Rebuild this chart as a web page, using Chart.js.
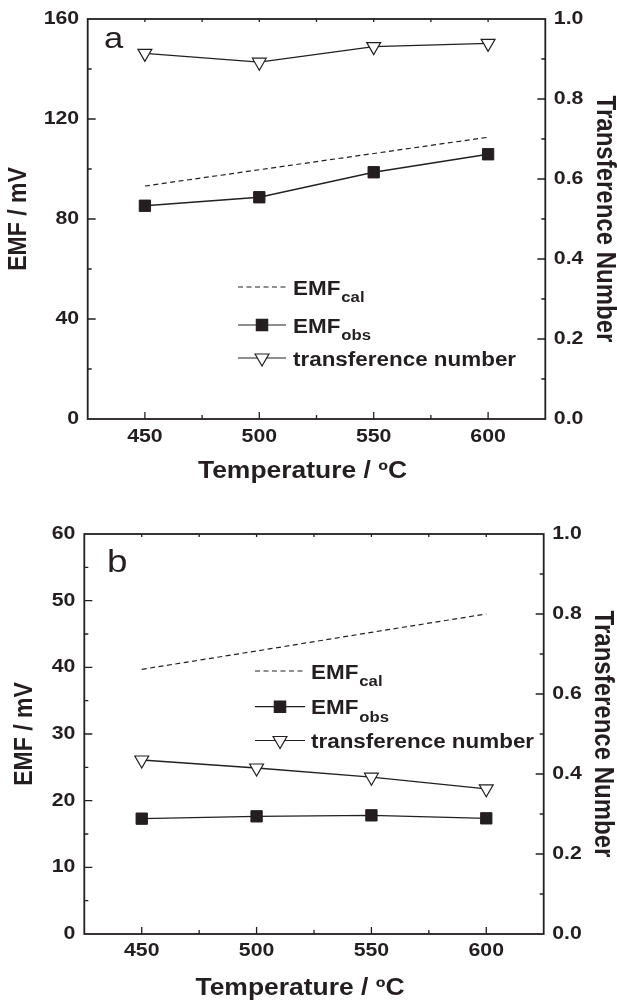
<!DOCTYPE html>
<html>
<head>
<meta charset="utf-8">
<script src="https://cdn.jsdelivr.net/npm/chart.js@4.4.1/dist/chart.umd.min.js"></script>
<style>
  body { margin: 0; background: #fff; }
  canvas { display: block; }
</style>
</head>
<body>
<canvas id="chartA" width="617" height="500"></canvas>
<canvas id="chartB" width="617" height="500"></canvas>
<script>
// temperatures (ºC)
const temps = [450, 500, 550, 600]

// panel a
const emfCalA = [93.2, 99.7, 106.2, 112.7]
const emfObsA = [85.3, 88.7, 98.7, 105.9]
const transA = [0.914, 0.892, 0.931, 0.939]

// panel b
const emfCalB = [39.7, 42.45, 45.25, 48.0]
const emfObsB = [17.3, 17.65, 17.8, 17.35]
const transB = [0.435, 0.415, 0.392, 0.363]

// legend text (main + subscript)
const seriesNames = ['EMF', 'EMF', 'transference number']
const seriesSubs = ['cal', 'obs', '']

const ink = '#231f20'
const fam = '"Liberation Sans", Arial, sans-serif'
Chart.defaults.font.family = fam
Chart.defaults.color = ink

// the source figure is a bit wider than tall, so text gets stretched sideways
const textStretch = 1.15
const baseFillText = CanvasRenderingContext2D.prototype.fillText
CanvasRenderingContext2D.prototype.fillText = function (text, x, y) {
  const m = this.getTransform()
  const p = m.transformPoint(new DOMPoint(x, y))
  this.save()
  this.setTransform(new DOMMatrix().translate(p.x, p.y).scale(textStretch, 1).translate(-p.x, -p.y).multiply(m))
  baseFillText.call(this, text, x, y)
  this.restore()
}

function pts(ys) {
  return temps.map((t, i) => ({ x: t, y: ys[i] }))
}

// frame, inward ticks, x title, panel letter and legend (with subscripts)
const frameTicks = {
  id: 'frameTicks',
  afterDatasetsDraw(chart, args, o) {
    const { ctx, chartArea: a, scales } = chart
    ctx.save()
    ctx.strokeStyle = ink
    ctx.fillStyle = ink
    ctx.lineWidth = 1.3
    ctx.beginPath()
    scales.x.ticks.forEach(t => {
      const px = scales.x.getPixelForValue(t.value)
      if (px < a.left + 1 || px > a.right - 1) return
      const major = t.label !== ''
      ctx.moveTo(px, a.bottom); ctx.lineTo(px, a.bottom - (major ? 7 : 4))
      ctx.moveTo(px, a.top); ctx.lineTo(px, a.top + 3)
    })
    scales.y.ticks.forEach(t => {
      const py = scales.y.getPixelForValue(t.value)
      if (py < a.top + 1 || py > a.bottom - 1) return
      ctx.moveTo(a.left, py); ctx.lineTo(a.left + (t.label !== '' ? 8 : 4), py)
    })
    scales.y1.ticks.forEach(t => {
      const py = scales.y1.getPixelForValue(t.value)
      if (py < a.top + 1 || py > a.bottom - 1) return
      ctx.moveTo(a.right, py); ctx.lineTo(a.right - (t.label !== '' ? 8 : 4), py)
    })
    ctx.stroke()
    ctx.lineWidth = 1.8
    ctx.strokeRect(a.left, a.top, a.right - a.left, a.bottom - a.top)

    // x axis title
    ctx.font = 'bold 23px ' + fam
    ctx.textAlign = 'center'
    ctx.textBaseline = 'middle'
    ctx.fillText('Temperature / ºC', (a.left + a.right) / 2 - 14, o.xTitleY)

    // panel letter
    ctx.textAlign = 'left'
    ctx.textBaseline = 'alphabetic'
    ctx.font = o.letterSize + 'px ' + fam
    ctx.fillText(o.letter, o.letterX, o.letterY)

    // legend
    const styles = [null, 'rect', 'triangle']
    for (let i = 0; i < 3; i++) {
      const y = o.legendY[i]
      ctx.lineWidth = 1.2
      ctx.setLineDash(i === 0 ? [5, 3.5] : [])
      ctx.beginPath()
      ctx.moveTo(o.lineX0, y); ctx.lineTo(o.lineX1, y)
      ctx.stroke()
      ctx.setLineDash([])
      if (styles[i]) {
        ctx.fillStyle = i === 1 ? ink : '#fff'
        Chart.helpers.drawPoint(ctx, {
          pointStyle: styles[i], radius: 8, rotation: i === 2 ? 180 : 0, borderWidth: 1.2
        }, (o.lineX0 + o.lineX1) / 2, y)
        ctx.fillStyle = ink
      }
      ctx.font = 'bold 19.5px ' + fam
      ctx.fillText(seriesNames[i], o.textX, y + 7.5)
      if (seriesSubs[i]) {
        const w = ctx.measureText(seriesNames[i]).width * textStretch
        ctx.font = 'bold 14.5px ' + fam
        ctx.fillText(seriesSubs[i], o.textX + w + 1, y + 15)
      }
    }
    ctx.restore()
  }
}

function makeChart(id, cal, obs, tn, p) {
  new Chart(document.getElementById(id), {
    type: 'line',
    data: {
      datasets: [
        {
          label: 'EMFcal', data: pts(cal), yAxisID: 'y',
          borderColor: ink, borderWidth: 1.2, borderDash: [5, 3.5], pointRadius: 0
        },
        {
          label: 'EMFobs', data: pts(obs), yAxisID: 'y',
          borderColor: ink, borderWidth: 1.3, pointStyle: 'rect', pointRadius: 8,
          pointBackgroundColor: ink, pointBorderColor: ink, pointBorderWidth: 1
        },
        {
          label: 'transference number', data: pts(tn), yAxisID: 'y1',
          borderColor: ink, borderWidth: 1.3, pointStyle: 'triangle', pointRotation: 180,
          pointRadius: 8, pointBackgroundColor: '#fff', pointBorderColor: ink, pointBorderWidth: 1.2
        }
      ]
    },
    options: {
      responsive: false,
      animation: false,
      devicePixelRatio: 1,
      layout: { padding: { top: p.top, right: 0, left: 0, bottom: 0 } },
      plugins: {
        legend: { display: false },
        tooltip: { enabled: false },
        frameTicks: p.deco
      },
      scales: {
        x: {
          type: 'linear', min: 425, max: 625,
          afterFit: s => { s.height = p.xH },
          grid: { display: false, drawTicks: false }, border: { display: false },
          ticks: {
            stepSize: 25, autoSkip: false, maxRotation: 0, padding: p.xPad,
            font: { size: 18.5, weight: 'bold', lineHeight: 1 },
            callback: v => (v % 50 === 0 ? String(v) : '')
          },
          title: { display: false }
        },
        y: {
          position: 'left', min: 0, max: p.yMax,
          afterFit: s => { s.width = p.yW },
          grid: { display: false, drawTicks: false }, border: { display: false },
          ticks: {
            stepSize: p.yStep / 2, padding: p.yPad,
            font: { size: 18.5, weight: 'bold', lineHeight: 1 },
            callback: v => (Math.abs(v / p.yStep - Math.round(v / p.yStep)) < 1e-6 ? String(v) : '')
          },
          title: {
            display: true, text: 'EMF / mV',
            font: { size: 23, weight: 'bold', lineHeight: 1 },
            padding: { top: p.yTitlePad, bottom: 0 }
          }
        },
        y1: {
          position: 'right', min: 0, max: 1,
          afterFit: s => { s.width = p.y1W },
          grid: { display: false, drawTicks: false }, border: { display: false },
          ticks: {
            stepSize: 0.1, padding: p.y1Pad,
            font: { size: 18.5, weight: 'bold', lineHeight: 1 },
            callback: v => (Math.round(v * 10) % 2 === 0 ? v.toFixed(1) : '')
          },
          title: {
            display: true, text: 'Transference Number',
            font: { size: 24, weight: 'bold', lineHeight: 1 },
            padding: { top: p.y1TitlePad, bottom: 0 }
          }
        }
      }
    },
    plugins: [frameTicks]
  })
}

makeChart('chartA', emfCalA, emfObsA, transA, {
  top: 19, xH: 81, yW: 87.7, y1W: 71.7, yMax: 160, yStep: 40,
  xPad: 8.5, yPad: 8.5, y1Pad: 8.5,
  yTitlePad: 7.5, y1TitlePad: 0,
  deco: {
    letter: 'a', letterSize: 30, letterX: 104, letterY: 48, xTitleY: 471.5,
    legendY: [287, 325, 358], lineX0: 238, lineX1: 286, textX: 293
  }
})

makeChart('chartB', emfCalB, emfObsB, transB, {
  top: 34, xH: 66, yW: 84.3, y1W: 73.3, yMax: 60, yStep: 10,
  xPad: 7.5, yPad: 9, y1Pad: 8.5,
  yTitlePad: 13.5, y1TitlePad: 2.5,
  deco: {
    letter: 'b', letterSize: 32, letterX: 107, letterY: 71.5, xTitleY: 489,
    legendY: [171, 206.7, 240.5], lineX0: 255, lineX1: 305, textX: 311
  }
})
</script>
</body>
</html>
